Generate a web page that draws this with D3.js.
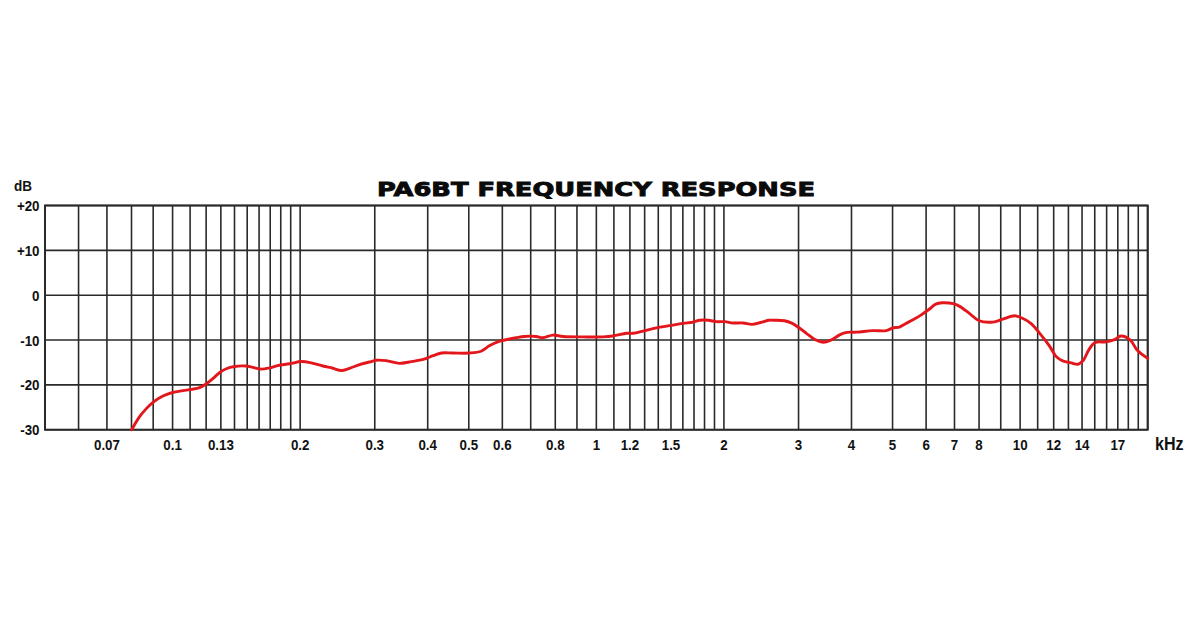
<!DOCTYPE html>
<html>
<head>
<meta charset="utf-8">
<script src="https://cdn.jsdelivr.net/npm/d3@7"></script>
<style>
html,body{margin:0;padding:0;background:#fff;}
svg{display:block;}
</style>
</head>
<body>
<svg id="chart" width="1200" height="628"></svg>
<script>
// ---- data ----
const title = "PA6BT FREQUENCY RESPONSE";
const freqKHz = [0.0801,0.0836,0.0867,0.0899,0.0949,0.100,0.1058,0.111,0.1158,0.120,0.1245,0.129,0.1339,0.140,0.149,0.1547,0.162,0.1694,0.177,0.189,0.2013,0.2125,0.2264,0.239,0.2501,0.2617,0.2762,0.2916,0.3024,0.319,0.343,0.362,0.383,0.3971,0.4116,0.4311,0.4588,0.502,0.5346,0.559,0.585,0.608,0.6465,0.676,0.7208,0.747,0.7906,0.8338,0.9295,1.037,1.094,1.179,1.222,1.29,1.386,1.49,1.602,1.692,1.755,1.838,1.92,2.01,2.10,2.22,2.33,2.44,2.55,2.637,2.78,2.90,2.99,3.13,3.278,3.43,3.58,3.76,3.90,4.11,4.49,4.83,5.01,5.19,5.38,5.56,5.82,6.09,6.32,6.55,6.95,7.2,7.6,8.0,8.62,9.1,9.7,10.1,10.6,11.1,11.7,12.2,12.6,13.2,13.7,14.1,14.5,15.0,15.94,16.7,17.3,18.2,18.9,20.0];
const levelDB = [-30,-27.1,-25.3,-23.9,-22.5,-21.7,-21.3,-21.0,-20.6,-19.8,-18.6,-17.3,-16.4,-15.9,-15.8,-16.1,-16.5,-16.2,-15.7,-15.3,-14.8,-15.1,-15.8,-16.3,-16.8,-16.3,-15.5,-14.9,-14.5,-14.6,-15.2,-14.9,-14.5,-14.1,-13.5,-12.9,-12.9,-12.9,-12.5,-11.3,-10.4,-10.0,-9.5,-9.2,-9.2,-9.5,-8.9,-9.2,-9.3,-9.3,-9.1,-8.5,-8.5,-8.0,-7.3,-6.8,-6.3,-6.0,-5.6,-5.6,-5.9,-5.9,-6.2,-6.2,-6.5,-6.1,-5.6,-5.6,-5.7,-6.3,-7.1,-8.5,-9.9,-10.5,-10.0,-8.8,-8.3,-8.25,-7.9,-7.9,-7.3,-7.1,-6.3,-5.6,-4.5,-3.2,-2.0,-1.7,-1.9,-2.5,-4.1,-5.7,-6.0,-5.35,-4.6,-5.1,-6.3,-8.4,-11.2,-13.8,-14.65,-15.1,-15.4,-14.5,-12.3,-10.6,-10.4,-9.9,-9.1,-10.0,-12.3,-14.1];
const gridFreqs = [0.05,0.06,0.07,0.08,0.09,0.10,0.11,0.12,0.13,0.14,0.15,0.16,0.17,0.18,0.19,0.2,0.3,0.4,0.5,0.6,0.7,0.8,0.9,1.0,1.1,1.2,1.3,1.4,1.5,1.6,1.7,1.8,1.9,2,3,4,5,6,7,8,9,10,11,12,13,14,15,16,17,18,19,20];
const xTickValues = [0.07,0.1,0.13,0.2,0.3,0.4,0.5,0.6,0.8,1,1.2,1.5,2,3,4,5,6,7,8,10,12,14,17];
const xTickLabels = ["0.07","0.1","0.13","0.2","0.3","0.4","0.5","0.6","0.8","1","1.2","1.5","2","3","4","5","6","7","8","10","12","14","17"];
const yTickValues = [20,10,0,-10,-20,-30];
const yTickLabels = ["+20","+10","0","-10","-20","-30"];

// ---- layout ----
const plotL = 45, plotR = 1147.7, plotT = 205.5, plotB = 429.7;
const svg = d3.select("#chart");
const x = d3.scaleLog().domain([0.05, 20]).range([plotL, plotR]);
const y = d3.scaleLinear().domain([-30, 20]).range([plotB, plotT]);

const gridColor = "#2a2a2a";

// vertical grid lines
svg.append("g").selectAll("line").data(gridFreqs).join("line")
  .attr("x1", d => x(d)).attr("x2", d => x(d))
  .attr("y1", plotT).attr("y2", plotB)
  .attr("stroke", gridColor).attr("stroke-width", 1.6);

// horizontal grid lines
svg.append("g").selectAll("line").data(yTickValues).join("line")
  .attr("x1", plotL).attr("x2", plotR)
  .attr("y1", d => y(d)).attr("y2", d => y(d))
  .attr("stroke", gridColor).attr("stroke-width", 1.6);

// border
svg.append("rect")
  .attr("x", plotL).attr("y", plotT)
  .attr("width", plotR - plotL).attr("height", plotB - plotT)
  .attr("fill", "none").attr("stroke", gridColor).attr("stroke-width", 2);

const font = "'Liberation Sans', Arial, sans-serif";
const sx = 0.86;

// y labels
svg.append("g").selectAll("text").data(yTickValues).join("text")
  .attr("transform", d => `translate(39.5,${y(d) + 5.5}) scale(${sx},1)`)
  .attr("text-anchor", "end")
  .attr("font-family", font).attr("font-weight", "bold").attr("font-size", 15.5)
  .attr("fill", "#111")
  .text((d, i) => yTickLabels[i]);

svg.append("text").attr("transform", "translate(14,191) scale(0.9,1)")
  .attr("font-family", font).attr("font-weight", "bold").attr("font-size", 15)
  .attr("fill", "#111").text("dB");

// x labels
svg.append("g").selectAll("text").data(xTickValues).join("text")
  .attr("transform", d => `translate(${x(d)},449.5) scale(${sx},1)`)
  .attr("text-anchor", "middle")
  .attr("font-family", font).attr("font-weight", "bold").attr("font-size", 15.5)
  .attr("fill", "#111")
  .text((d, i) => xTickLabels[i]);

svg.append("text").attr("transform", "translate(1155,449.5) scale(0.92,1)")
  .attr("font-family", font).attr("font-weight", "bold").attr("font-size", 17.5)
  .attr("fill", "#111").text("kHz");

// title
svg.append("text").attr("x", 377).attr("y", 196)
  .attr("font-family", "'DejaVu Sans', sans-serif").attr("font-weight", "bold")
  .attr("font-size", 19.5)
  .attr("textLength", 438).attr("lengthAdjust", "spacingAndGlyphs")
  .attr("fill", "#0a0a0a").attr("stroke", "#0a0a0a").attr("stroke-width", 0.9)
  .text(title);

// curve
const pts = freqKHz.map((f, i) => [f, levelDB[i]]);
const line = d3.line().x(d => x(d[0])).y(d => y(d[1])).curve(d3.curveCatmullRom.alpha(0.5));
svg.append("path").datum(pts)
  .attr("d", line)
  .attr("fill", "none").attr("stroke", "#e3161c").attr("stroke-width", 2.9)
  .attr("stroke-linejoin", "round").attr("stroke-linecap", "round");
</script>
</body>
</html>
